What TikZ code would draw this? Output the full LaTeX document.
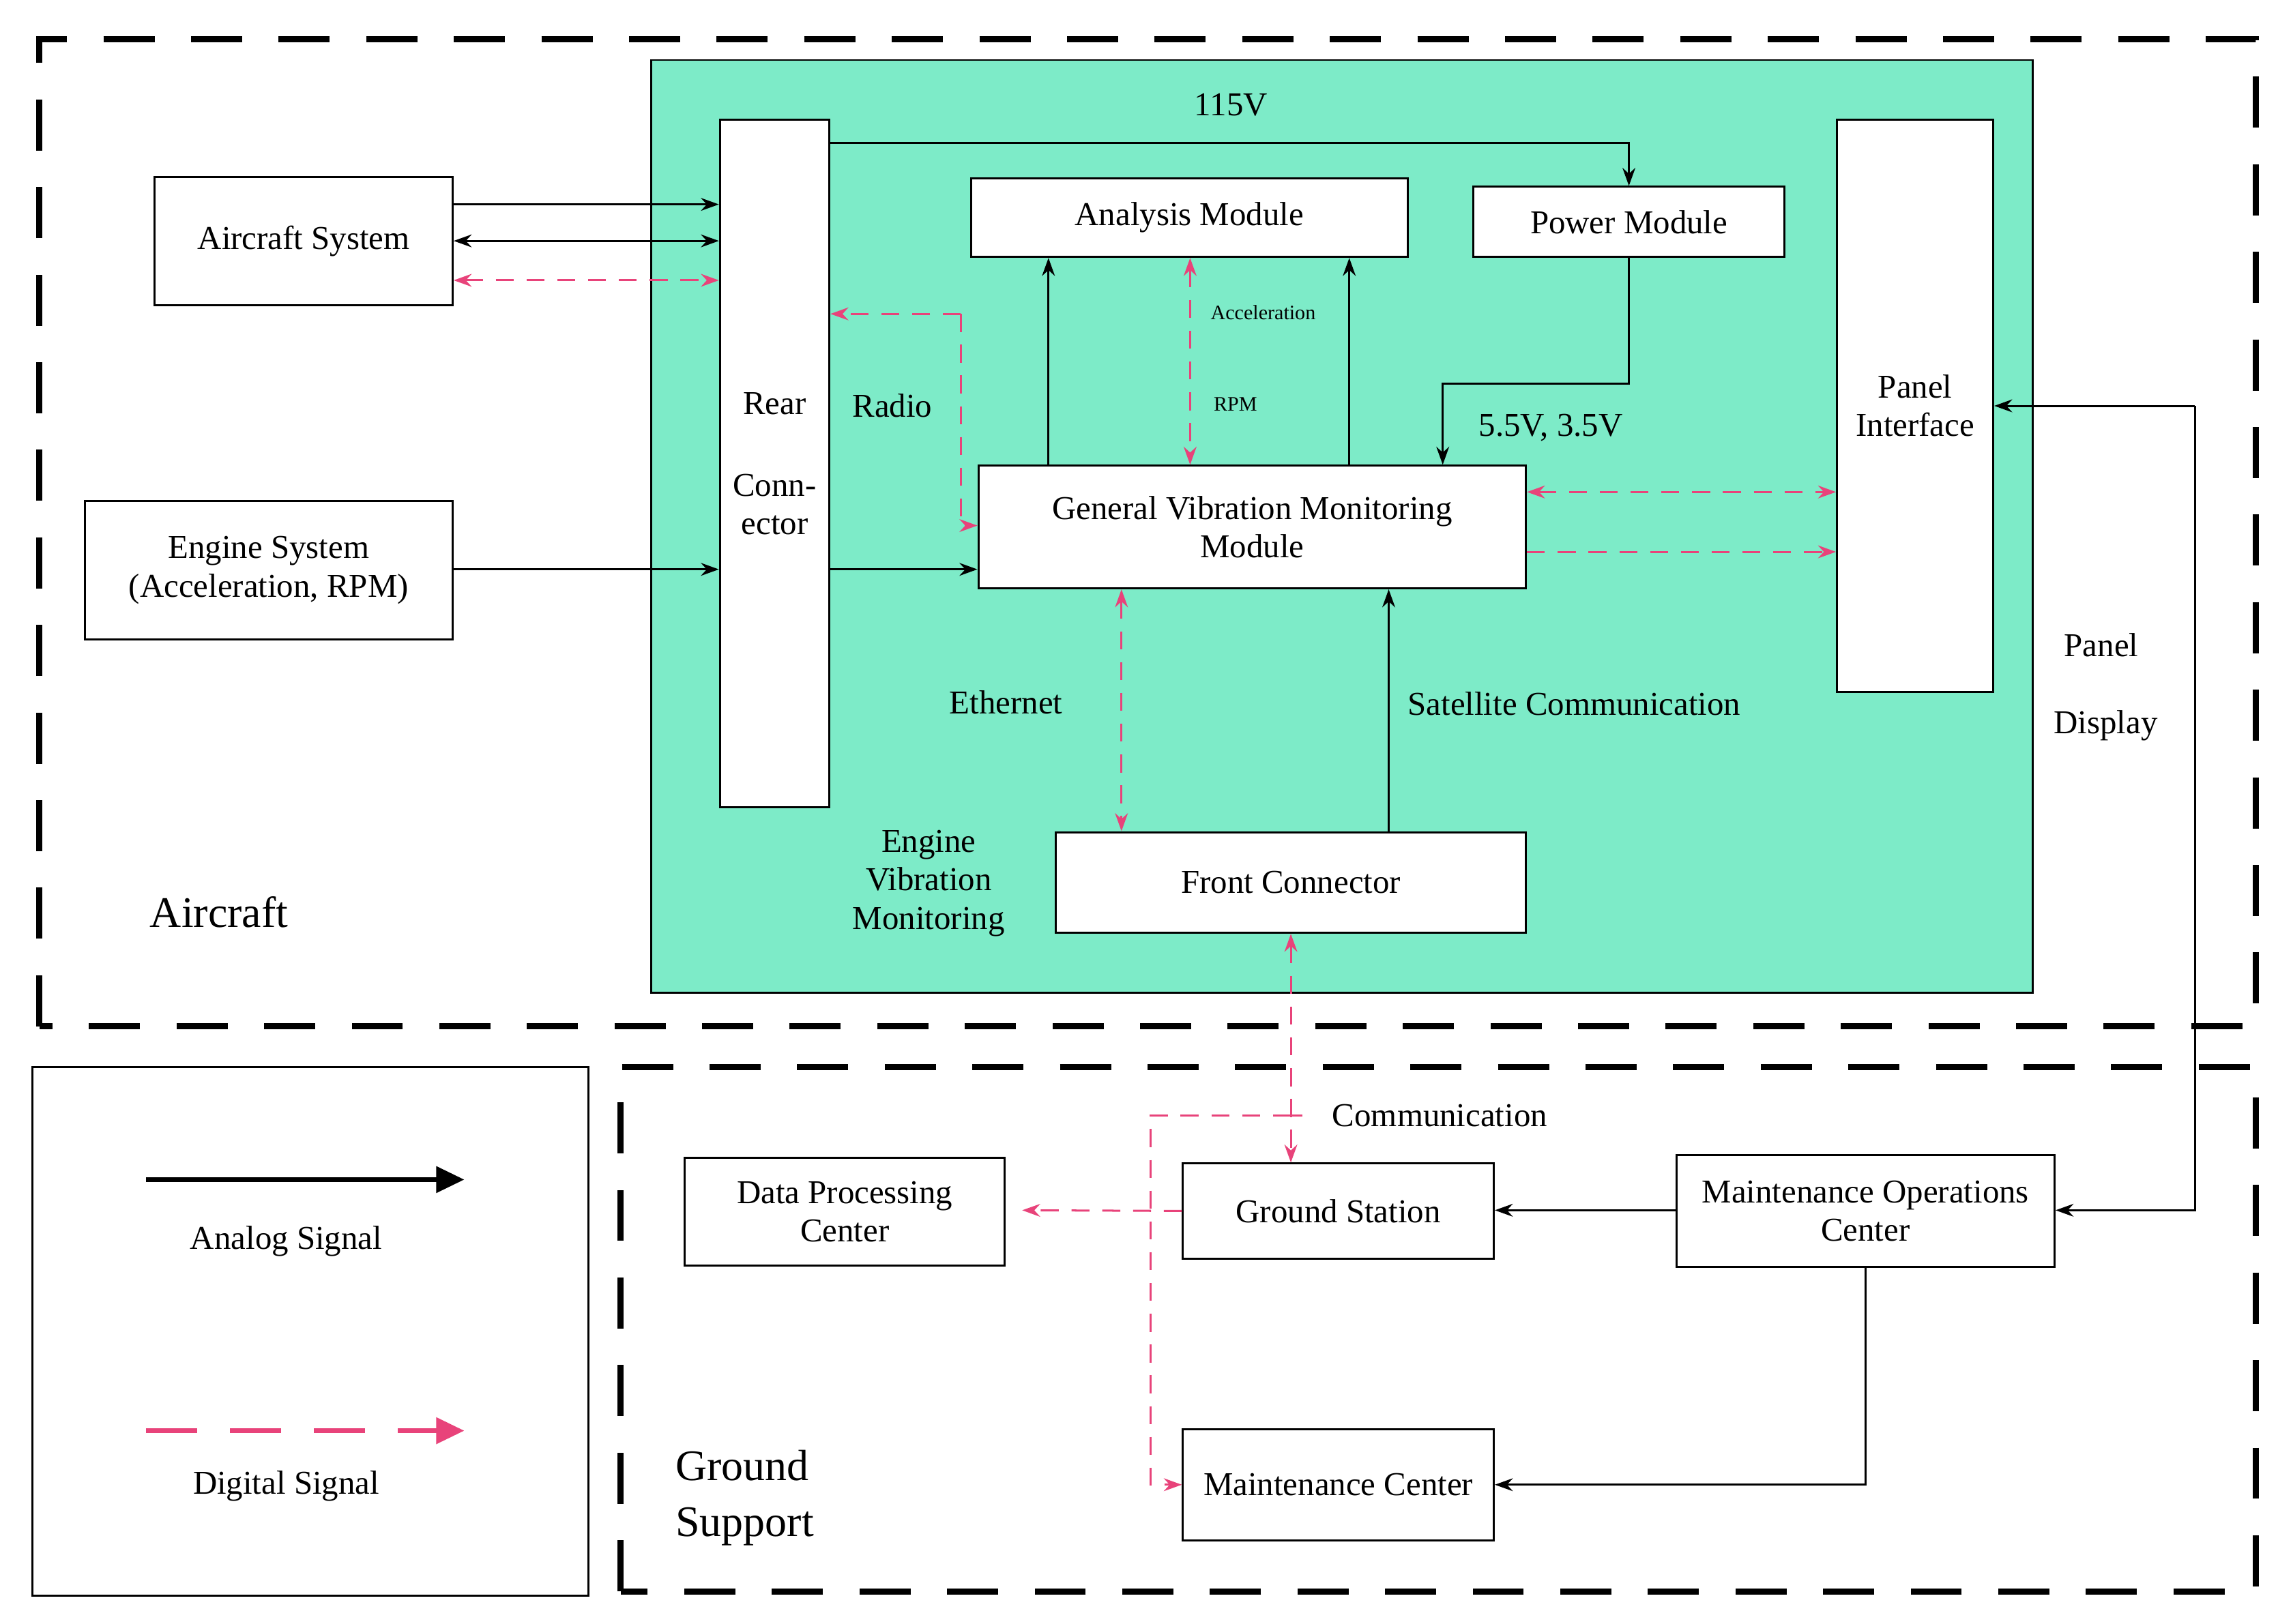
\documentclass[tikz,border=0pt]{standalone}
\usepackage{fontspec}
\setmainfont{Liberation Serif}
\usetikzlibrary{arrows.meta}
\definecolor{teal1}{HTML}{7DEBC8}
\definecolor{pk}{HTML}{E8437A}
\begin{document}
\begin{tikzpicture}[x=0.02cm,y=-0.02cm,
  box/.style={draw,fill=white,line width=0.8pt,align=center,inner sep=0pt,font=\fontsize{13}{15}\selectfont},
  txt/.style={align=center,inner sep=0pt,font=\fontsize{13}{15}\selectfont},
  an/.style={line width=0.8pt,-{Stealth[length=7pt,width=5pt]}},
  dg/.style={pk,line width=0.8pt,dash pattern=on 7pt off 5pt,-{Stealth[length=7pt,width=5pt]}},
  outer/.style={line width=2.4pt,dash pattern=on 0.7cm off 0.5cm}]
\useasboundingbox (0,0) rectangle (1560,1112);
\fill[white] (0,0) rectangle (1560,1112);
\draw[outer] (27,703) -- (27,27) -- (1545,27) -- (1545,703) -- cycle;
\draw[outer] (425,1090) -- (425,731) -- (1545,731) -- (1545,1090) -- cycle;
\draw[line width=0.8pt] (22,731) rectangle (403,1093);
\fill[teal1] (446,41) rectangle (1392,680);
\draw[line width=0.6pt] (446,41) rectangle (1392,680);

\node[box,minimum width=4.08cm,minimum height=1.76cm] (as) at (208,165) {Aircraft System};
\node[box,minimum width=5.04cm,minimum height=1.9cm] (es) at (184,390.5) {Engine System\\(Acceleration, RPM)};
\node[box,minimum width=1.5cm,minimum height=9.42cm] (rc) at (530.5,317.5) {Rear\\[1.3em]Conn-\\ector};
\node[box,minimum width=5.98cm,minimum height=1.08cm] (am) at (814.5,149) {Analysis Module};
\node[box,minimum width=4.26cm,minimum height=0.96cm] (pm) at (1115.5,152) {Power Module};
\node[box,minimum width=2.14cm,minimum height=7.84cm] (pi) at (1311.5,278) {Panel\\Interface};
\node[box,minimum width=7.5cm,minimum height=1.68cm] (gv) at (857.5,361) {General Vibration Monitoring\\Module};
\node[box,minimum width=6.44cm,minimum height=1.38cm] (fc) at (884,604.5) {Front Connector};
\node[box,minimum width=4.38cm,minimum height=1.48cm] (dp) at (578.5,830) {Data Processing\\Center};
\node[box,minimum width=4.26cm,minimum height=1.3cm] (gs) at (916.5,829.5) {Ground Station};
\node[box,minimum width=5.18cm,minimum height=1.54cm] (mo) at (1277.5,829.5) {Maintenance Operations\\Center};
\node[box,minimum width=4.26cm,minimum height=1.52cm] (mc) at (916.5,1017) {Maintenance Center};

\node[txt] (l115) at (843,72) {115V};
\node[txt] (lrad) at (611,278) {Radio};
\node[txt,font=\fontsize{8}{10}\selectfont] (lacc) at (865,214) {Acceleration};
\node[txt,font=\fontsize{8}{10}\selectfont] (lrpm) at (846,277) {RPM};
\node[txt] (lv) at (1062,293) {5.5V, 3.5V};
\node[txt] (leth) at (689,481) {Ethernet};
\node[txt] (lsat) at (1078,482) {Satellite Communication};
\node[txt] (lev) at (636,605) {Engine\\Vibration\\Monitoring};
\node[txt,font=\fontsize{17}{19}\selectfont] (lair) at (150,625) {Aircraft};
\node[txt] (lp1) at (1439,442) {Panel};
\node[txt] (lp2) at (1442,497) {Display};
\node[txt] (lcom) at (986,764) {Communication};
\node[txt,font=\fontsize{17}{22}\selectfont,align=left] (lgs) at (510,1026) {Ground\\Support};
\node[txt] (lan) at (196,850) {Analog Signal};
\node[txt] (ldg) at (196,1018) {Digital Signal};

% aircraft side
\draw[an] (as.east|-0,140) -- (rc.west|-0,140);
\draw[an,{Stealth[length=7pt,width=5pt]}-{Stealth[length=7pt,width=5pt]}] (as.east|-0,165) -- (rc.west|-0,165);
\draw[dg,{Stealth[length=7pt,width=5pt]}-{Stealth[length=7pt,width=5pt]}] (as.east|-0,192) -- (rc.west|-0,192);
\draw[an] (es.east|-0,390) -- (rc.west|-0,390);
\draw[an] (rc.east|-0,390) -- (gv.west|-0,390);
\draw[an] (rc.east|-0,98) -| (pm.north);
\coordinate (pv) at (988,263);
\draw[an] (pm.south) |- (pv) -- (gv.north-|pv);
\draw[an] (gv.north-|718,0) -- (am.south-|718,0);
\draw[an] (gv.north-|924,0) -- (am.south-|924,0);
\draw[dg,{Stealth[length=7pt,width=5pt]}-{Stealth[length=7pt,width=5pt]}] (am.south-|815,0) -- (gv.north-|815,0);
\coordinate (rd) at (658,215);
\draw[dg] (rd) -- (rc.east|-rd);
\draw[dg] (rd) -- (658,360) -- (gv.west|-0,360);
\draw[dg,{Stealth[length=7pt,width=5pt]}-{Stealth[length=7pt,width=5pt]}] (gv.east|-0,337) -- (pi.west|-0,337);
\draw[dg] (gv.east|-0,378) -- (pi.west|-0,378);
\draw[dg,{Stealth[length=7pt,width=5pt]}-{Stealth[length=7pt,width=5pt]}] (gv.south-|768,0) -- (fc.north-|768,0);
\draw[an] (fc.north-|951,0) -- (gv.south-|951,0);
\coordinate (pd) at (1503,278);
\draw[an] (pd) -- (pi.east|-pd);
\draw[an] (pd) -- (1503,829) -- (mo.east|-0,829);
% ground
\draw[dg,{Stealth[length=7pt,width=5pt]}-{Stealth[length=7pt,width=5pt]}] (fc.south) -- (gs.north-|fc.south);
\coordinate (cm) at (884,764);
\draw[dg] (cm) -- (788,764) -- (788,1017) -- (mc.west|-0,1017);
\draw[pk,line width=0.8pt] (876,764) -- (892,764);
\draw[dg] (gs.west) -- (700,829);
\draw[an] (mo.west|-0,829) -- (gs.east|-0,829);
\draw[an] (mo.south) |- (mc.east);
% legend
\coordinate (a1) at (100,808); \coordinate (a2) at (318,808);
\draw[line width=2pt,-{Triangle[length=11pt,width=10pt]}] (a1) -- (a2);
\coordinate (d1) at (100,980); \coordinate (d2) at (318,980);
\draw[pk,line width=2pt,dash pattern=on 0.7cm off 0.45cm,-{Triangle[length=11pt,width=10pt]}] (d1) -- (d2);
\end{tikzpicture}
\end{document}
